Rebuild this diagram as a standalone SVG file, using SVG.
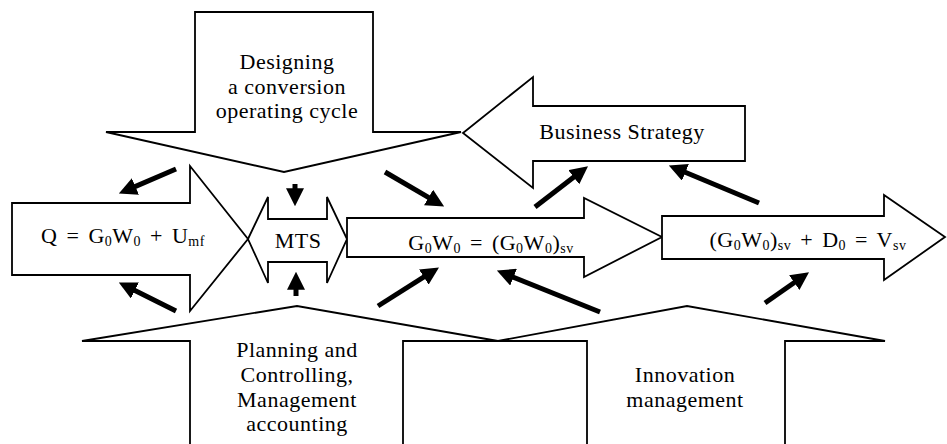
<svg xmlns="http://www.w3.org/2000/svg" width="947" height="444" viewBox="0 0 947 444">
<style>
.blk{fill:#fff;stroke:#000;stroke-width:1.8;stroke-linejoin:miter}
.t{font-family:"Liberation Serif","Times New Roman",serif;font-size:22px;letter-spacing:0.5px;fill:#000;text-anchor:middle}
.f{word-spacing:3px}
.s{font-size:14px}
.con line{stroke:#000;stroke-width:5;marker-end:url(#ah)}
</style>
<defs>
<marker id="ah" markerUnits="userSpaceOnUse" markerWidth="18" markerHeight="18" refX="6" refY="8" orient="auto" viewBox="0 0 16 16">
<path d="M0,0 L16,8 L0,16 z" fill="#000"/>
</marker>
</defs>
<rect width="947" height="444" fill="#fff"/>

<g id="designing">
<path class="blk" d="M195,12 H373 V132 H461 L284,172 L106,132 H195 Z"/>
<text class="t" x="287" y="69">Designing</text>
<text class="t" x="287" y="94">a conversion</text>
<text class="t" x="287" y="118">operating cycle</text>
</g>

<g id="business-strategy">
<path class="blk" d="M463,133 L533,77 V106 H745 V161 H533 V188 Z"/>
<text class="t" x="622" y="139">Business Strategy</text>
</g>

<g id="q-node">
<path class="blk" d="M12,203 H190 V166 L248,239 L190,311 V275 H12 Z"/>
<text class="t f" x="123" y="243">Q = G<tspan class="s" dy="3">0</tspan><tspan dy="-3">W</tspan><tspan class="s" dy="3">0</tspan><tspan dy="-3"> + U</tspan><tspan class="s" dy="3">mf</tspan></text>
</g>

<g id="mts">
<path class="blk" d="M248,239 L268,197 V219 H327 V197 L347,239 L327,283 V262 H268 V283 Z"/>
<text class="t" x="298" y="248">MTS</text>
</g>

<g id="g0w0">
<path class="blk" d="M347,218 H584 V198 L662,237 L584,277 V257 H347 Z"/>
<text class="t f" x="491" y="250">G<tspan class="s" dy="3">0</tspan><tspan dy="-3">W</tspan><tspan class="s" dy="3">0</tspan><tspan dy="-3"> = (G</tspan><tspan class="s" dy="3">0</tspan><tspan dy="-3">W</tspan><tspan class="s" dy="3">0</tspan><tspan dy="-3">)</tspan><tspan class="s" dy="3">sv</tspan></text>
</g>

<g id="vsv">
<path class="blk" d="M662,216 H884 V195 L945,237 L884,280 V259 H662 Z"/>
<text class="t f" x="808" y="247">(G<tspan class="s" dy="3">0</tspan><tspan dy="-3">W</tspan><tspan class="s" dy="3">0</tspan><tspan dy="-3">)</tspan><tspan class="s" dy="3">sv</tspan><tspan dy="-3"> + D</tspan><tspan class="s" dy="3">0</tspan><tspan dy="-3"> = V</tspan><tspan class="s" dy="3">sv</tspan></text>
</g>

<g id="planning">
<path class="blk" d="M190,446 V341 H82 L297,306 L498,341 H403 V446"/>
<text class="t" x="297" y="357">Planning and</text>
<text class="t" x="297" y="382">Controlling,</text>
<text class="t" x="297" y="407">Management</text>
<text class="t" x="297" y="431">accounting</text>
</g>

<g id="innovation">
<path class="blk" d="M587,446 V341 H498 L687,306 L885,341 H785 V446"/>
<text class="t" x="685" y="382">Innovation</text>
<text class="t" x="685" y="407">management</text>
</g>

<g id="connectors" class="con">
<line x1="176" y1="169" x2="129.2" y2="189.1"/>
<line x1="295" y1="184" x2="295" y2="195"/>
<line x1="385" y1="172" x2="434.4" y2="200.9"/>
<line x1="176" y1="311" x2="128.9" y2="287.5"/>
<line x1="296" y1="296" x2="296" y2="283"/>
<line x1="378" y1="306" x2="429.5" y2="273.4"/>
<line x1="535" y1="207" x2="579.1" y2="173.1"/>
<line x1="759" y1="203" x2="679.2" y2="169.8"/>
<line x1="600" y1="312" x2="507.3" y2="274.7"/>
<line x1="765" y1="303" x2="799.8" y2="278.7"/>
</g>
</svg>
